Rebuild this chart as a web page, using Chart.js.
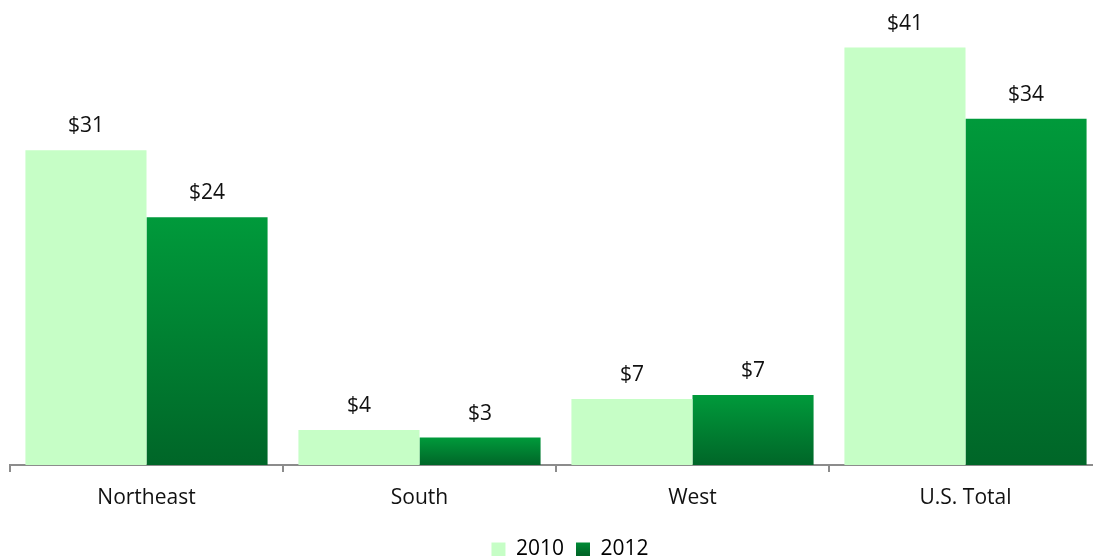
<!DOCTYPE html>
<html>
<head>
<meta charset="utf-8">
<script src="https://cdn.jsdelivr.net/npm/chart.js@4/dist/chart.umd.min.js"></script>
<style>
  html, body { margin: 0; padding: 0; background: #fff; overflow: hidden; }
  #wrap { position: relative; width: 1168px; height: 556px; }
</style>
</head>
<body>
<div id="wrap"><canvas id="chart"></canvas></div>
<script>
var regions = ['Northeast', 'South', 'West', 'U.S. Total'];
var years = ['2010', '2012'];
var values2010 = [31.0, 3.45, 6.5, 41.1];
var values2012 = [24.4, 2.7, 6.9, 34.1];
var labels2010 = ['$31', '$4', '$7', '$41'];
var labels2012 = ['$24', '$3', '$7', '$34'];

var light = '#c6fec6';
var font = '"Open Sans", sans-serif';

function darkFill(ctx) {
    var chart = ctx.chart;
    if (!chart.chartArea || !chart.scales.y) return '#008a35';
    var y = chart.scales.y;
    var top = y.getPixelForValue(ctx.raw);
    var bottom = y.getPixelForValue(0);
    var g = chart.ctx.createLinearGradient(0, top, 0, bottom);
    g.addColorStop(0, '#009a3b');
    g.addColorStop(1, '#006628');
    return g;
}

// value labels above each bar
var valueLabels = {
    id: 'valueLabels',
    afterDatasetsDraw: function (chart) {
        var c = chart.ctx;
        var texts = [labels2010, labels2012];
        c.save();
        c.font = '21px ' + font;
        c.fillStyle = '#111';
        c.textAlign = 'center';
        c.textBaseline = 'middle';
        chart.data.datasets.forEach(function (ds, i) {
            chart.getDatasetMeta(i).data.forEach(function (bar, j) {
                c.fillText(texts[i][j], bar.x, bar.y - 24);
            });
        });
        c.restore();
    }
};

var ctx = document.getElementById('chart').getContext('2d');
window.myBar = new Chart(ctx, {
    type: 'bar',
    data: {
        labels: regions,
        datasets: [{
            label: years[0],
            data: values2010,
            backgroundColor: light
        }, {
            label: years[1],
            data: values2012,
            backgroundColor: darkFill
        }]
    },
    options: {
        responsive: true,
        maintainAspectRatio: false,
        animation: false,
        layout: { padding: { left: 10, right: 38, top: 8, bottom: -14 } },
        datasets: {
            bar: { categoryPercentage: 0.887, barPercentage: 1.0 }
        },
        scales: {
            x: {
                afterFit: function (axis) { axis.height = 62; },
                grid: {
                    offset: true,
                    drawOnChartArea: false,
                    tickLength: 7,
                    color: '#8c8c8c',
                    lineWidth: 2
                },
                border: { color: '#8c8c8c', width: 2 },
                ticks: {
                    color: '#111',
                    padding: 13,
                    font: { family: font, size: 21 }
                }
            },
            y: {
                // invisible, only takes room on the right so the legend sits where it should
                position: 'right',
                afterFit: function (axis) { axis.width = 28; },
                grid: { display: false },
                border: { display: false },
                ticks: { display: false },
                min: 0,
                max: 45
            }
        },
        plugins: {
            legend: {
                position: 'bottom',
                labels: {
                    color: '#111',
                    boxWidth: 14,
                    boxHeight: 14,
                    padding: 12,
                    font: { family: font, size: 21 },
                    generateLabels: function (chart) {
                        var g = chart.ctx.createLinearGradient(0, 538, 0, 554);
                        g.addColorStop(0, '#009a3b');
                        g.addColorStop(1, '#006628');
                        return [
                            { text: years[0], fillStyle: light, strokeStyle: light, lineWidth: 0, datasetIndex: 0 },
                            { text: years[1], fillStyle: g, strokeStyle: g, lineWidth: 0, datasetIndex: 1 }
                        ];
                    }
                }
            },
            tooltip: { enabled: false }
        }
    },
    plugins: [valueLabels]
});
</script>
</body>
</html>
